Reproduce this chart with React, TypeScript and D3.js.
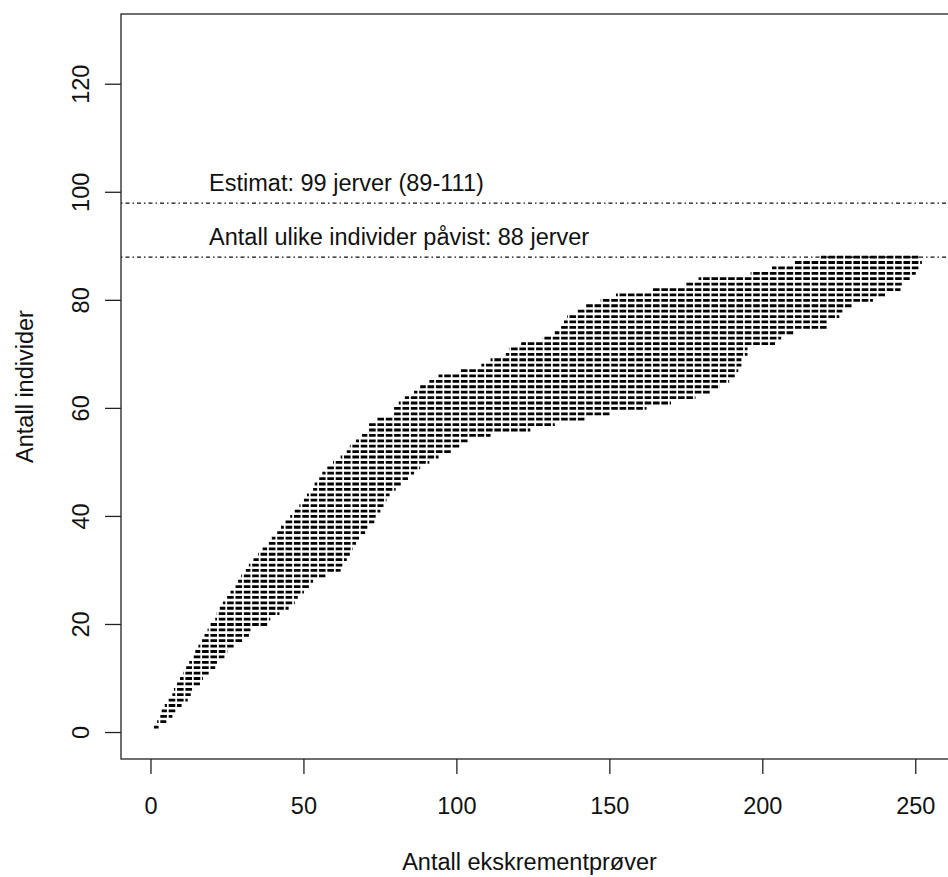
import * as d3 from 'd3';
import React, { useEffect, useRef } from 'react';

// individuals found (y) and the range of sample counts (x) where that count shows up
const individuals = [
  1, 2, 3, 4, 5, 6, 7, 8, 9, 10, 11, 12, 13, 14, 15, 16, 17, 18, 19, 20, 21, 22,
  23, 24, 25, 26, 27, 28, 29, 30, 31, 32, 33, 34, 35, 36, 37, 38, 39, 40, 41, 42, 43, 44,
  45, 46, 47, 48, 49, 50, 51, 52, 53, 54, 55, 56, 57, 58, 59, 60, 61, 62, 63, 64, 65, 66,
  67, 68, 69, 70, 71, 72, 73, 74, 75, 76, 77, 78, 79, 80, 81, 82, 83, 84, 85, 86, 87, 88
];
const minSamples = [
  1, 2, 2.5, 3.5, 4.5, 5.5, 7, 7.5, 8.5, 9.5, 10.5, 11.5, 12.5, 13.5, 14.5, 15.5, 16.5, 17.5, 18.5, 19.5, 21, 21.5,
  22.5, 23.5, 24.5, 26, 27.5, 28.5, 29.5, 31, 32, 33.5, 35, 36.5, 38, 39.5, 41, 42.5, 44, 45.5, 47, 48.5, 50, 51,
  53, 53.5, 55, 56, 57.5, 59.5, 62, 64, 65, 67, 69, 71, 71, 74, 79, 79, 81, 83, 86, 88, 91, 94,
  101, 108, 111, 116, 117, 121, 128, 132, 134, 135, 136, 139, 142, 147, 152, 164, 175, 179, 196, 203, 210, 219
];
const maxSamples = [
  3, 5, 7, 8, 10, 12, 13, 14, 16, 17, 19, 21, 22, 24, 25, 27, 30, 32, 33, 38, 39, 42,
  45, 47, 48, 50, 52, 53, 57, 62, 63, 64, 65, 66, 67, 68, 70, 71, 73, 74, 75, 76, 77, 78,
  80, 82, 84, 86, 88, 91, 94, 98, 101, 104, 111, 124, 132, 142, 150, 162, 170, 178, 183, 186, 189, 191,
  192, 193, 193, 195, 195, 204, 206, 210, 221, 221, 225, 226, 229, 236, 240, 245, 246, 248, 250, 251, 252, 251
];

const xTicks = [0, 50, 100, 150, 200, 250];
const yTicks = [0, 20, 40, 60, 80, 100, 120];
const refValues = [98, 88];
const refLabels = ['Estimat: 99 jerver (89-111)', 'Antall ulike individer påvist: 88 jerver'];
const refLabelX = 19;

export default function App() {
  const ref = useRef<SVGSVGElement>(null);

  useEffect(() => {
    const svg = d3.select(ref.current);
    svg.selectAll('*').remove();

    const x = d3.scaleLinear().domain([-9.8, 262.5]).range([121, 954]);
    const y = d3.scaleLinear().domain([-4.9, 133]).range([759, 14]);
    const font = "'Liberation Sans', Arial, sans-serif";
    const fs = 23.5;

    // dashed rows
    const period = 8.35;
    const x0 = x(0) + 1;
    svg
      .append('g')
      .selectAll('line')
      .data(individuals)
      .enter()
      .append('line')
      .attr('x1', (d, i) => x(minSamples[i]))
      .attr('x2', (d, i) => x(maxSamples[i]))
      .attr('y1', (d) => y(d))
      .attr('y2', (d) => y(d))
      .attr('stroke', '#000')
      .attr('stroke-width', 2.8)
      .attr('stroke-dasharray', '6.6,1.75')
      .attr('stroke-dashoffset', (d, i) => {
        const o = (x(minSamples[i]) - x0) % period;
        return o < 0 ? o + period : o;
      });

    // reference lines
    svg
      .append('g')
      .selectAll('line')
      .data(refValues)
      .enter()
      .append('line')
      .attr('x1', x.range()[0])
      .attr('x2', x.range()[1])
      .attr('y1', (d) => y(d))
      .attr('y2', (d) => y(d))
      .attr('stroke', '#111')
      .attr('stroke-width', 1.1)
      .attr('stroke-dasharray', '1.5,3,4,3');

    svg
      .append('g')
      .selectAll('text')
      .data(refValues)
      .enter()
      .append('text')
      .attr('x', x(refLabelX))
      .attr('y', (d) => y(d) - 12.5)
      .attr('font-family', font)
      .attr('font-size', fs)
      .attr('fill', '#111')
      .text((d, i) => refLabels[i]);

    // box
    svg
      .append('rect')
      .attr('x', x.range()[0])
      .attr('y', y.range()[1])
      .attr('width', x.range()[1] - x.range()[0])
      .attr('height', y.range()[0] - y.range()[1])
      .attr('fill', 'none')
      .attr('stroke', '#222')
      .attr('stroke-width', 1.3);

    // x axis
    const gx = svg.append('g').attr('transform', 'translate(0,' + y.range()[0] + ')');
    gx.selectAll('line')
      .data(xTicks)
      .enter()
      .append('line')
      .attr('x1', (d) => x(d))
      .attr('x2', (d) => x(d))
      .attr('y1', 0)
      .attr('y2', 15)
      .attr('stroke', '#222')
      .attr('stroke-width', 1.3);
    gx.selectAll('text')
      .data(xTicks)
      .enter()
      .append('text')
      .attr('x', (d) => x(d))
      .attr('y', 55)
      .attr('text-anchor', 'middle')
      .attr('font-family', font)
      .attr('font-size', fs)
      .attr('fill', '#111')
      .text((d) => d);

    // y axis
    const gy = svg.append('g').attr('transform', 'translate(' + x.range()[0] + ',0)');
    gy.selectAll('line')
      .data(yTicks)
      .enter()
      .append('line')
      .attr('x1', -16)
      .attr('x2', 0)
      .attr('y1', (d) => y(d))
      .attr('y2', (d) => y(d))
      .attr('stroke', '#222')
      .attr('stroke-width', 1.3);
    gy.selectAll('text')
      .data(yTicks)
      .enter()
      .append('text')
      .attr('transform', (d) => 'translate(-32,' + y(d) + ') rotate(-90)')
      .attr('text-anchor', 'middle')
      .attr('font-family', font)
      .attr('font-size', fs)
      .attr('fill', '#111')
      .text((d) => d);

    svg
      .append('text')
      .attr('x', (121 + 954) / 2 - 8)
      .attr('y', 870)
      .attr('text-anchor', 'middle')
      .attr('font-family', font)
      .attr('font-size', fs)
      .attr('fill', '#111')
      .text('Antall ekskrementprøver');

    svg
      .append('text')
      .attr('transform', 'translate(33,' + (y.range()[0] + y.range()[1]) / 2 + ') rotate(-90)')
      .attr('text-anchor', 'middle')
      .attr('font-family', font)
      .attr('font-size', fs)
      .attr('fill', '#111')
      .text('Antall individer');
  }, []);

  return (
    <svg
      ref={ref}
      width={948}
      height={877}
      style={{ position: 'absolute', left: 0, top: 0, background: '#fff' }}
    />
  );
}
